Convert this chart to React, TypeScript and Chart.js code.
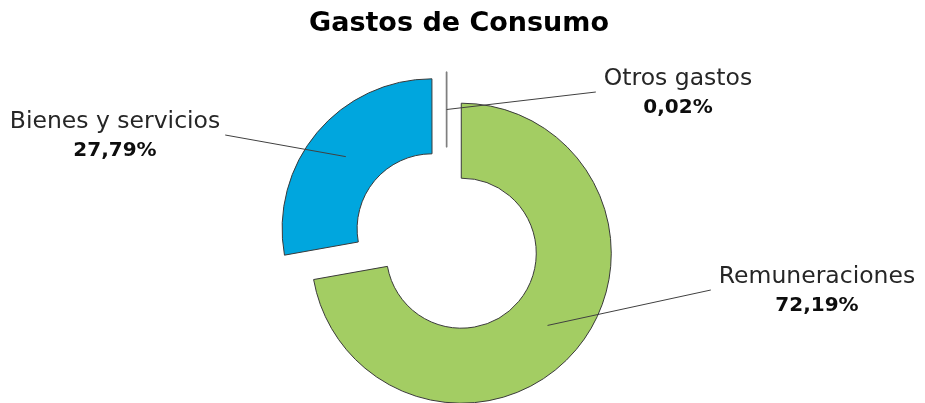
import React, { useEffect, useRef } from 'react';
import { Chart, registerables } from 'chart.js';

Chart.register(...registerables);

// ---- data ----
const TITLE = 'Gastos de Consumo';
const CATEGORIES = ['Remuneraciones', 'Bienes y servicios', 'Otros gastos'];
const VALUES = [72.19, 27.79, 0.02];
const PERCENT_LABELS = ['72,19%', '27,79%', '0,02%'];

// ---- styles / layout ----
const COLORS = ['#A3CD63', '#00A6DE', '#7F7F7F'];
const BORDER_COLORS = ['#3a3a3a', '#3a3a3a', '#7F7F7F'];
const BORDER_WIDTHS = [1, 1, 1.6];
const FONT = '"DejaVu Sans", sans-serif';
const TITLE_SIZE = 27;
const TITLE_POS: [number, number] = [459, 31];
const LABEL_SIZE = 23.5;
const PCT_SIZE = 20;
const EXPLODE = 19;
// label box centres (text placement), in canvas pixels
const LABEL_CENTERS: [number, number][] = [
  [817, 290],
  [115, 135],
  [678, 92],
];

const explodePlugin = {
  id: 'explodeSlices',
  afterDatasetsUpdate(chart: any) {
    const meta = chart.getDatasetMeta(0);
    meta.data.forEach((arc: any) => {
      const mid = (arc.startAngle + arc.endAngle) / 2;
      arc.x += Math.cos(mid) * EXPLODE;
      arc.y += Math.sin(mid) * EXPLODE;
    });
  },
};

const titlePlugin = {
  id: 'offsetTitle',
  afterDraw(chart: any) {
    const ctx: CanvasRenderingContext2D = chart.ctx;
    ctx.save();
    ctx.fillStyle = '#000';
    ctx.font = `bold ${TITLE_SIZE}px ${FONT}`;
    ctx.textAlign = 'center';
    ctx.textBaseline = 'alphabetic';
    ctx.fillText(TITLE, TITLE_POS[0], TITLE_POS[1]);
    ctx.restore();
  },
};

const labelPlugin = {
  id: 'sliceLabels',
  afterDatasetsDraw(chart: any) {
    const ctx: CanvasRenderingContext2D = chart.ctx;
    const meta = chart.getDatasetMeta(0);
    meta.data.forEach((arc: any, i: number) => {
      const p = arc.getCenterPoint();
      const [cx, cy] = LABEL_CENTERS[i];
      ctx.save();
      ctx.font = `${LABEL_SIZE}px ${FONT}`;
      const w1 = ctx.measureText(CATEGORIES[i]).width;
      ctx.font = `bold ${PCT_SIZE}px ${FONT}`;
      const w2 = ctx.measureText(PERCENT_LABELS[i]).width;
      const half = Math.max(w1, w2) / 2;
      const ex = p.x < cx ? cx - half - 8 : cx + half + 5;
      ctx.strokeStyle = '#404040';
      ctx.lineWidth = 1;
      ctx.beginPath();
      ctx.moveTo(p.x, p.y);
      ctx.lineTo(ex, cy);
      ctx.stroke();
      ctx.textAlign = 'center';
      ctx.textBaseline = 'alphabetic';
      ctx.fillStyle = '#262626';
      ctx.font = `${LABEL_SIZE}px ${FONT}`;
      ctx.fillText(CATEGORIES[i], cx, cy - 7);
      ctx.fillStyle = '#0d0d0d';
      ctx.font = `bold ${PCT_SIZE}px ${FONT}`;
      ctx.fillText(PERCENT_LABELS[i], cx, cy + 21);
      ctx.restore();
    });
  },
};

export default function App() {
  const ref = useRef<HTMLCanvasElement | null>(null);
  useEffect(() => {
    document.body.style.margin = '0';
    const canvas = ref.current;
    if (!canvas) return;
    const chart = new Chart(canvas, {
      type: 'doughnut',
      data: {
        labels: CATEGORIES,
        datasets: [
          {
            data: VALUES,
            backgroundColor: COLORS,
            borderColor: BORDER_COLORS,
            borderWidth: BORDER_WIDTHS,
          },
        ],
      },
      options: {
        responsive: false,
        animation: false,
        events: [],
        radius: 150,
        cutout: '50%',
        rotation: 0,
        layout: { padding: { left: 0, right: 31.6, top: 79, bottom: 0 } },
        plugins: {
          legend: { display: false },
          tooltip: { enabled: false },
          title: { display: false },
        },
      } as any,
      plugins: [explodePlugin, labelPlugin, titlePlugin],
    });
    return () => chart.destroy();
  }, []);
  return (
    <div style={{ width: 925, height: 403, background: '#fff' }}>
      <canvas ref={ref} width={925} height={403} />
    </div>
  );
}
